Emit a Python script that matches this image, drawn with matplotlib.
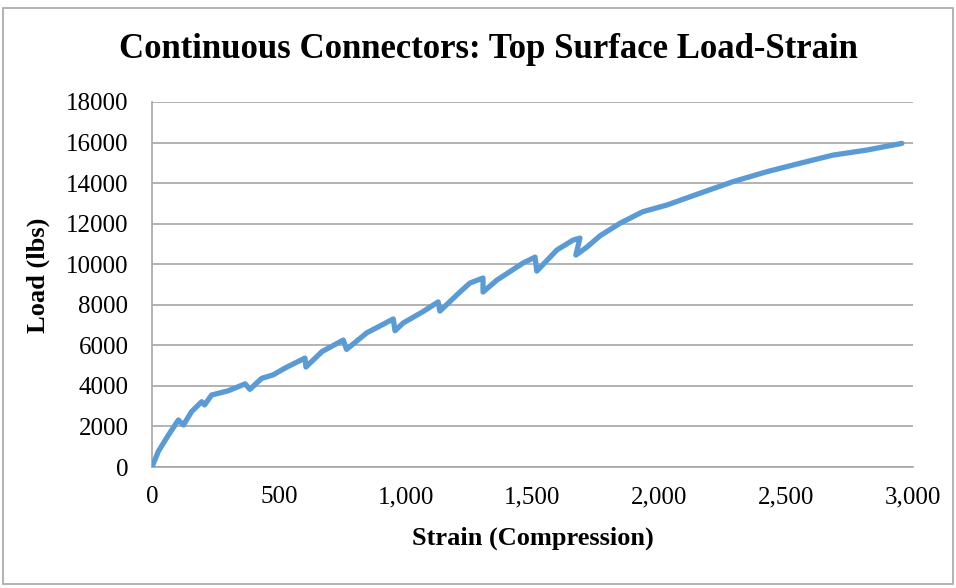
import numpy as np
import matplotlib.pyplot as plt
from matplotlib.ticker import FuncFormatter, MultipleLocator
from matplotlib.patches import Rectangle

# data
strain = [0, 25, 65, 104, 124, 156, 196, 207, 235, 301,
          367, 386, 432, 477, 532, 603, 607, 670, 754, 767,
          847, 898, 951, 958, 990, 1068, 1128, 1135, 1214, 1253,
          1305, 1305, 1360, 1463, 1510, 1517, 1596, 1660, 1687, 1671,
          1715, 1766, 1845, 1935, 2030, 2160, 2290, 2423, 2555, 2684,
          2818, 2956]
load = [0, 770, 1580, 2320, 2070, 2730, 3220, 3060, 3550, 3760,
        4100, 3830, 4370, 4540, 4930, 5370, 4930, 5690, 6260, 5800,
        6620, 6950, 7300, 6720, 7100, 7660, 8140, 7690, 8630, 9070,
        9320, 8630, 9220, 10060, 10350, 9660, 10700, 11190, 11290, 10450,
        10850, 11400, 12020, 12590, 12920, 13500, 14070, 14560, 14980, 15380,
        15630, 15960]

title = "Continuous Connectors: Top Surface Load-Strain"
x_label = "Strain (Compression)"
y_label = "Load (lbs)"

plt.rcParams["font.family"] = ["Liberation Serif", "DejaVu Serif"]

W, H = 956, 588
fig = plt.figure(figsize=(W / 100, H / 100), dpi=100)
ax = fig.add_axes([152 / W, 1 - 467 / H, (913 - 152) / W, (467 - 102) / H])

# chart area border
fig.patches.append(Rectangle((3 / W, 1 - 584 / H), (953 - 3) / W, (584 - 8) / H,
                             transform=fig.transFigure, fill=False,
                             edgecolor="#a6a6a6", linewidth=1.2))

ax.plot(strain, load, color="#5b9bd5", linewidth=3.8,
        solid_joinstyle="round", solid_capstyle="round", zorder=3)

# axes :
ax.set_xlim(0, 3000)
ax.set_ylim(0, 18000)
ax.xaxis.set_major_locator(MultipleLocator(500))
ax.yaxis.set_major_locator(MultipleLocator(2000))
ax.xaxis.set_major_formatter(FuncFormatter(lambda v, p: f"{int(v):,}"))
ax.yaxis.set_major_formatter(FuncFormatter(lambda v, p: f"{int(v)}"))
ax.tick_params(axis="both", length=0, labelsize=18)
ax.tick_params(axis="x", pad=14)
ax.tick_params(axis="y", pad=17)
ax.grid(axis="y", color="#a6a6a6", linewidth=1.2)
ax.set_axisbelow(True)
for side in ["top", "right"]:
    ax.spines[side].set_visible(False)
for side in ["left", "bottom"]:
    ax.spines[side].set_color("#a6a6a6")
    ax.spines[side].set_linewidth(1.2)

# text :
fig.text(488 / W, 1 - 50 / H, title, ha="center", va="center",
         fontsize=25, fontweight="bold")
fig.text(533 / W, 1 - 538 / H, x_label, ha="center", va="center",
         fontsize=19, fontweight="bold")
fig.text(38 / W, 1 - 275 / H, y_label, ha="center", va="center",
         rotation=90, fontsize=19, fontweight="bold")

fig.savefig("out.png", dpi=100)
